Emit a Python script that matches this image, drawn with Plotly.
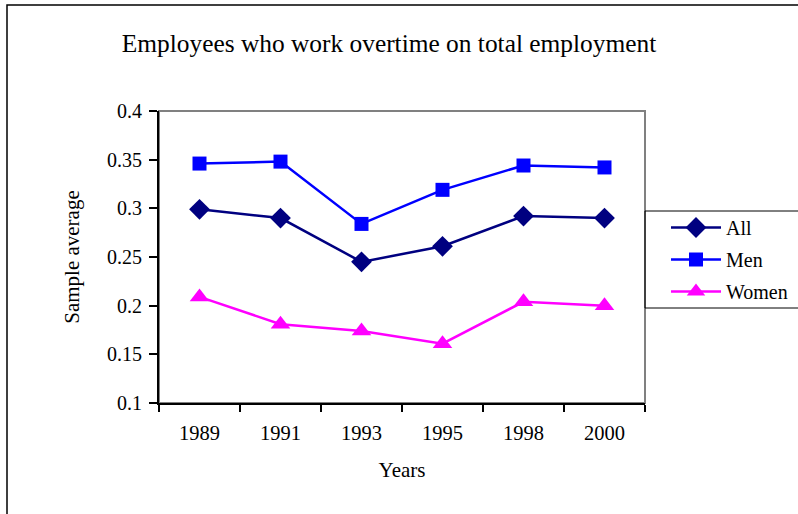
import plotly.graph_objects as go

years = ["1989", "1991", "1993", "1995", "1998", "2000"]
all_vals = [0.299, 0.290, 0.245, 0.261, 0.292, 0.290]
men_vals = [0.346, 0.348, 0.284, 0.319, 0.344, 0.342]
women_vals = [0.209, 0.181, 0.174, 0.161, 0.204, 0.200]
y_ticks = [0.1, 0.15, 0.2, 0.25, 0.3, 0.35, 0.4]
y_tick_labels = ["0.1", "0.15", "0.2", "0.25", "0.3", "0.35", "0.4"]

W, H = 798, 514
L, R, T, B = 159, 645, 111, 403

fig = go.Figure()
fig.add_trace(go.Scatter(x=years, y=all_vals, name="All", mode="lines+markers",
                         legendgroup="a",
                         line=dict(color="#000080", width=2.5),
                         marker=dict(symbol="diamond", size=16, color="#000080")))
fig.add_trace(go.Scatter(x=years, y=men_vals, name="Men", mode="lines+markers",
                         legendgroup="m",
                         line=dict(color="#0000FF", width=2.5),
                         marker=dict(symbol="square", size=14, color="#0000FF")))
fig.add_trace(go.Scatter(x=years, y=women_vals, name="Women", mode="lines+markers",
                         legendgroup="w",
                         line=dict(color="#FF00FF", width=2.5),
                         marker=dict(symbol="triangle-up", size=17, color="#FF00FF")))

font = "Liberation Serif, Times New Roman, serif"
fig.update_layout(
    width=W, height=H,
    margin=dict(l=L, r=W - R, t=T, b=H - B, pad=0, autoexpand=False),
    paper_bgcolor="white", plot_bgcolor="white",
    font=dict(family=font, size=20, color="black"),
    title=dict(text="Employees who work overtime on total employment",
               x=389 / W, xanchor="center", y=1 - 43 / H, yanchor="middle",
               font=dict(family=font, size=25.4, color="black")),
    showlegend=True,
    legend=dict(x=(666 - L) / (R - L), xanchor="left", y=(B - 208) / (B - T), yanchor="top",
                bgcolor="rgba(0,0,0,0)", borderwidth=0,
                font=dict(family=font, size=20, color="black"),
                tracegroupgap=3, itemwidth=50),
    xaxis=dict(type="category", range=[-0.5, 5.5], showgrid=False, showline=True,
               linecolor="black", linewidth=2, ticks="outside", tickson="boundaries",
               ticklen=7, tickcolor="black", tickwidth=1.5, ticklabelstandoff=10,
               title=dict(text="Years", font=dict(family=font, size=21), standoff=20),
               tickfont=dict(family=font, size=20.5), zeroline=False),
    yaxis=dict(range=[0.1, 0.4], tickvals=y_ticks, ticktext=y_tick_labels,
               showgrid=False, showline=True, linecolor="black", linewidth=2,
               ticks="outside", ticklen=8, tickcolor="black", tickwidth=1.5,
               ticklabelstandoff=3,
               title=dict(text="Sample average", font=dict(family=font, size=21), standoff=22),
               tickfont=dict(family=font, size=20), zeroline=False),
    shapes=[
        dict(type="rect", xref="paper", yref="paper", x0=0, x1=1, y0=0, y1=1,
             line=dict(color="#808080", width=2), layer="below"),
        dict(type="rect", xref="paper", yref="paper", x0=1.0, x1=(W + 20 - L) / (R - L),
             y0=(B - 308) / (B - T), y1=(B - 211) / (B - T),
             line=dict(color="black", width=1), fillcolor="rgba(0,0,0,0)"),
        dict(type="rect", xref="paper", yref="paper",
             x0=(7 - L) / (R - L), x1=(W + 20 - L) / (R - L),
             y0=(B - (H + 20)) / (B - T), y1=(B - 5) / (B - T),
             line=dict(color="black", width=1.5), fillcolor="rgba(0,0,0,0)"),
    ],
)

fig.write_html("out.html", config={"displayModeBar": False},
               post_script="document.body.style.margin='0';document.body.style.overflow='hidden';")
